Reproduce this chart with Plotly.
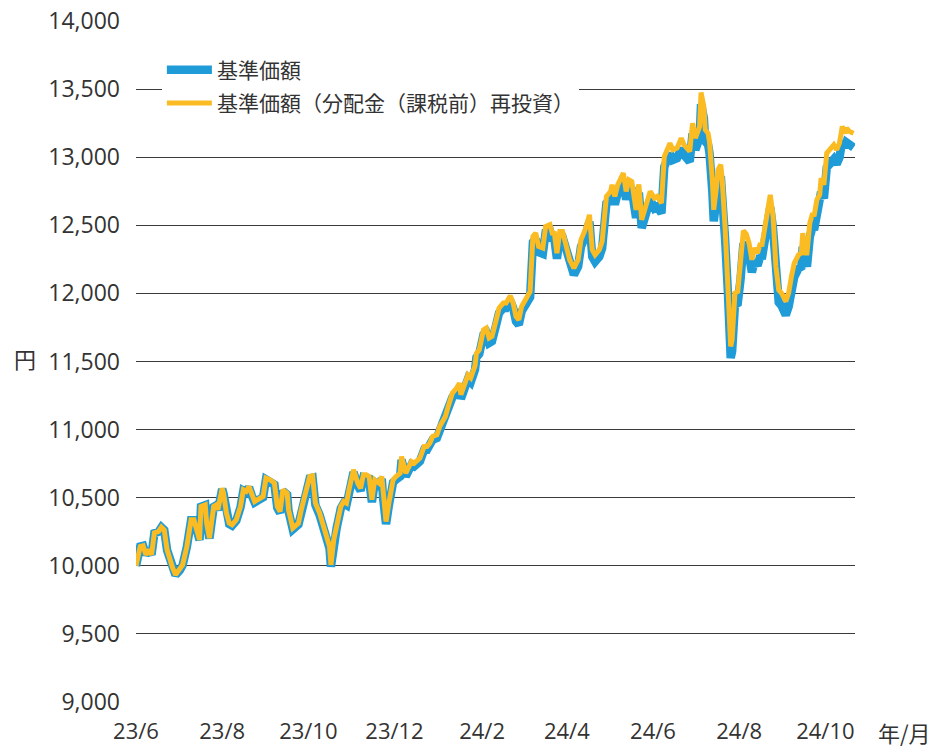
import plotly.graph_objects as go

dates = [
    "2023-06-01", "2023-06-04", "2023-06-06", "2023-06-08", "2023-06-10", "2023-06-12", "2023-06-14",
    "2023-06-17", "2023-06-19", "2023-06-21", "2023-06-23", "2023-06-25", "2023-06-27", "2023-06-29",
    "2023-07-02", "2023-07-04", "2023-07-07", "2023-07-10", "2023-07-12", "2023-07-14", "2023-07-16",
    "2023-07-17", "2023-07-20", "2023-07-21", "2023-07-23", "2023-07-26", "2023-07-28", "2023-07-29",
    "2023-08-01", "2023-08-02", "2023-08-04", "2023-08-06", "2023-08-08", "2023-08-11", "2023-08-14",
    "2023-08-16", "2023-08-18", "2023-08-20", "2023-08-22", "2023-08-24", "2023-08-26", "2023-08-30",
    "2023-09-01", "2023-09-04", "2023-09-07", "2023-09-09", "2023-09-11", "2023-09-13", "2023-09-16",
    "2023-09-17", "2023-09-20", "2023-09-24", "2023-09-26", "2023-09-29",
    "2023-10-02", "2023-10-04", "2023-10-06", "2023-10-09", "2023-10-11", "2023-10-14", "2023-10-16",
    "2023-10-17", "2023-10-19", "2023-10-21", "2023-10-24", "2023-10-26", "2023-10-28", "2023-10-30",
    "2023-11-02", "2023-11-05", "2023-11-07", "2023-11-09", "2023-11-11", "2023-11-13", "2023-11-15",
    "2023-11-17", "2023-11-20", "2023-11-22", "2023-11-23", "2023-11-25", "2023-11-27", "2023-11-30",
    "2023-12-02", "2023-12-05", "2023-12-06", "2023-12-08", "2023-12-09", "2023-12-13", "2023-12-15",
    "2023-12-19", "2023-12-22", "2023-12-24", "2023-12-26", "2023-12-28", "2023-12-31",
    "2024-01-02", "2024-01-06", "2024-01-08", "2024-01-11", "2024-01-14", "2024-01-16", "2024-01-17",
    "2024-01-20", "2024-01-22", "2024-01-24", "2024-01-27", "2024-01-28", "2024-01-30",
    "2024-02-02", "2024-02-04", "2024-02-06", "2024-02-08", "2024-02-11", "2024-02-13", "2024-02-16",
    "2024-02-18", "2024-02-21", "2024-02-23", "2024-02-25", "2024-02-27", "2024-02-29",
    "2024-03-03", "2024-03-06", "2024-03-08", "2024-03-10", "2024-03-12", "2024-03-15", "2024-03-17",
    "2024-03-20", "2024-03-22", "2024-03-23", "2024-03-25", "2024-03-27", "2024-03-29",
    "2024-04-01", "2024-04-03", "2024-04-06", "2024-04-09", "2024-04-11", "2024-04-14", "2024-04-16",
    "2024-04-17", "2024-04-19", "2024-04-21", "2024-04-24", "2024-04-26", "2024-04-29",
    "2024-05-02", "2024-05-03", "2024-05-05", "2024-05-07", "2024-05-09", "2024-05-11", "2024-05-13",
    "2024-05-15", "2024-05-17", "2024-05-20", "2024-05-21", "2024-05-22", "2024-05-24", "2024-05-27",
    "2024-05-30",
    "2024-06-02", "2024-06-04", "2024-06-07", "2024-06-09", "2024-06-13", "2024-06-15", "2024-06-18",
    "2024-06-21", "2024-06-23", "2024-06-27", "2024-06-29",
    "2024-07-01", "2024-07-04", "2024-07-05", "2024-07-07", "2024-07-08", "2024-07-10", "2024-07-11",
    "2024-07-13", "2024-07-14", "2024-07-16", "2024-07-17", "2024-07-19", "2024-07-20", "2024-07-22",
    "2024-07-24", "2024-07-26", "2024-07-27", "2024-07-29", "2024-07-31",
    "2024-08-02", "2024-08-04", "2024-08-06", "2024-08-08", "2024-08-10", "2024-08-12", "2024-08-14",
    "2024-08-16", "2024-08-17", "2024-08-20", "2024-08-23", "2024-08-25", "2024-08-27", "2024-08-29",
    "2024-08-31",
    "2024-09-03", "2024-09-05", "2024-09-07", "2024-09-09", "2024-09-12", "2024-09-14", "2024-09-15",
    "2024-09-17", "2024-09-18", "2024-09-20", "2024-09-22", "2024-09-23", "2024-09-25", "2024-09-27",
    "2024-09-28", "2024-09-30",
    "2024-10-02", "2024-10-04", "2024-10-07", "2024-10-09", "2024-10-11", "2024-10-13", "2024-10-15",
    "2024-10-16", "2024-10-18", "2024-10-21",
]

# 基準価額（分配金（課税前）再投資）
reinvested = [
    10000, 10142, 10147, 10081, 10117, 10081, 10242, 10252, 10284, 10264, 10117, 10044, 9983, 9934,
    9971, 10007, 10142, 10338, 10338, 10264, 10191, 10436, 10448, 10313, 10203, 10436, 10448, 10411,
    10570, 10533, 10387, 10313, 10301, 10338, 10436, 10558, 10546, 10582, 10521, 10472, 10485, 10509,
    10644, 10631, 10607, 10436, 10399, 10558, 10533, 10411, 10277, 10313, 10411, 10546,
    10656, 10661, 10460, 10387, 10313, 10215, 10142, 10007, 10191, 10289, 10436, 10472, 10460, 10570,
    10705, 10607, 10570, 10668, 10668, 10656, 10485, 10631, 10607, 10656, 10509, 10325, 10460, 10631,
    10656, 10680, 10802, 10729, 10680, 10766, 10754, 10791, 10876, 10876, 10901, 10950, 10962,
    11023, 11096, 11170, 11268, 11305, 11341, 11256, 11341, 11402, 11380, 11470, 11560, 11586,
    11733, 11745, 11672, 11684, 11806, 11892, 11929, 11929, 11982, 11929, 11831, 11806, 11904,
    11966, 12014, 12418, 12443, 12345, 12333, 12491, 12504, 12430, 12455, 12296, 12455, 12455,
    12345, 12247, 12186, 12247, 12393, 12467, 12540, 12577, 12320, 12283, 12320, 12382, 12712,
    12749, 12797, 12712, 12797, 12834, 12883, 12749, 12834, 12822, 12614, 12736, 12800, 12540, 12640,
    12749,
    12700, 12712, 12663, 13005, 13103, 13054, 13067, 13140, 13091, 13042, 13250,
    13140, 13226, 13475, 13372, 13201, 13176, 13115, 12834, 12614, 12785, 12907, 12944, 12834, 12491,
    12100, 11611, 11659, 12002, 12014,
    12198, 12460, 12436, 12369, 12247, 12333, 12296, 12369, 12345, 12540, 12724, 12565, 12198, 12026,
    12002,
    11941, 12002, 12124, 12222, 12283, 12296, 12443, 12296, 12296, 12516, 12589, 12565, 12687, 12724,
    12846, 12797,
    13030, 13054, 13091, 13054, 13103, 13226, 13176, 13213, 13189, 13176,
]

# 基準価額
nav = [
    10000, 10142, 10147, 10081, 10117, 10081, 10240, 10250, 10282, 10262, 10115, 10042, 9981, 9932,
    9968, 10004, 10139, 10335, 10335, 10261, 10188, 10433, 10445, 10310, 10200, 10433, 10445, 10408,
    10564, 10527, 10381, 10307, 10295, 10332, 10430, 10552, 10540, 10576, 10515, 10466, 10479, 10503,
    10634, 10621, 10597, 10426, 10389, 10548, 10523, 10401, 10267, 10303, 10401, 10536,
    10642, 10647, 10446, 10373, 10299, 10201, 10128, 9993, 10177, 10275, 10422, 10458, 10446, 10556,
    10687, 10589, 10552, 10650, 10650, 10638, 10467, 10613, 10589, 10638, 10491, 10307, 10442, 10613,
    10632, 10656, 10778, 10705, 10656, 10742, 10730, 10767, 10852, 10852, 10877, 10926, 10938,
    10993, 11066, 11140, 11238, 11275, 11311, 11226, 11311, 11372, 11350, 11440, 11530, 11556,
    11697, 11709, 11636, 11648, 11770, 11856, 11893, 11893, 11946, 11893, 11795, 11770, 11868,
    11924, 11972, 12376, 12401, 12303, 12291, 12449, 12462, 12388, 12413, 12254, 12413, 12413,
    12295, 12197, 12136, 12197, 12343, 12417, 12490, 12527, 12270, 12233, 12270, 12332, 12662,
    12689, 12737, 12652, 12737, 12774, 12823, 12689, 12774, 12762, 12554, 12676, 12740, 12480, 12580,
    12689,
    12625, 12637, 12588, 12930, 13028, 12979, 12992, 13065, 13016, 12967, 13175,
    13055, 13141, 13390, 13287, 13116, 13091, 13030, 12749, 12529, 12700, 12822, 12859, 12749, 12406,
    12015, 11526, 11574, 11917, 11929,
    12106, 12368, 12344, 12277, 12155, 12241, 12204, 12277, 12253, 12448, 12632, 12473, 12106, 11934,
    11910,
    11841, 11902, 12024, 12122, 12183, 12196, 12343, 12196, 12196, 12416, 12489, 12465, 12587, 12624,
    12746, 12697,
    12925, 12949, 12986, 12949, 12998, 13121, 13071, 13108, 13084, 13071,
]

tick_dates = ["2023-06-01", "2023-08-01", "2023-10-01", "2023-12-01", "2024-02-01",
              "2024-04-01", "2024-06-01", "2024-08-01", "2024-10-01"]
tick_labels = ["23/6", "23/8", "23/10", "23/12", "24/2", "24/4", "24/6", "24/8", "24/10"]
y_ticks = [9000, 9500, 10000, 10500, 11000, 11500, 12000, 12500, 13000, 13500, 14000]

BLUE = "#1f9bd7"
YELLOW = "#fbbb22"
TEXT = "#333333"
FONT = "Open Sans, Noto Sans CJK JP, sans-serif"
CJK = "Noto Sans CJK JP, sans-serif"

fig = go.Figure()
fig.add_trace(go.Scatter(x=dates, y=nav, mode="lines", name="基準価額",
                         line=dict(color=BLUE, width=8.5), legendgroup="a"))
fig.add_trace(go.Scatter(x=dates, y=reinvested, mode="lines",
                         name="基準価額（分配金（課税前）再投資）",
                         line=dict(color=YELLOW, width=5), legendgroup="b"))

fig.update_layout(
    width=930, height=748,
    margin=dict(l=136, r=75, t=21, b=46, autoexpand=False),
    paper_bgcolor="white", plot_bgcolor="white",
    font=dict(family=FONT, size=23, color=TEXT),
    showlegend=True,
    legend=dict(x=0.036, y=0.958, xanchor="left", yanchor="top",
                bgcolor="white", font=dict(family=CJK, size=21, color=TEXT),
                itemwidth=45, tracegroupgap=3, traceorder="grouped"),
    xaxis=dict(type="date", range=["2023-06-01", "2024-10-22"], automargin=False,
               tickvals=tick_dates, ticktext=tick_labels, showgrid=False,
               showline=False, zeroline=False, ticks="", ticklabelstandoff=14,
               tickfont=dict(family=FONT, size=22, color=TEXT)),
    yaxis=dict(range=[9000, 14000], tickvals=y_ticks, tickformat=",d", automargin=False,
               showgrid=True, gridcolor="#3a3a3a", gridwidth=1.4,
               zeroline=False, showline=False, ticks="", ticklabelstandoff=15,
               tickfont=dict(family=FONT, size=23, color=TEXT)),
    annotations=[
        dict(text="円", xref="paper", yref="paper", x=-0.155, y=0.505,
             xanchor="center", yanchor="middle",
             showarrow=False, font=dict(family=CJK, size=22, color=TEXT)),
        dict(text="年/月", xref="paper", yref="paper", x=1.0695, y=-0.044,
             xanchor="center", yanchor="middle",
             showarrow=False, font=dict(family=CJK, size=22, color=TEXT)),
    ],
)

fig.write_html("out.html", config={"displayModeBar": False},
               post_script="document.body.style.margin='0';document.body.style.overflow='hidden';")
